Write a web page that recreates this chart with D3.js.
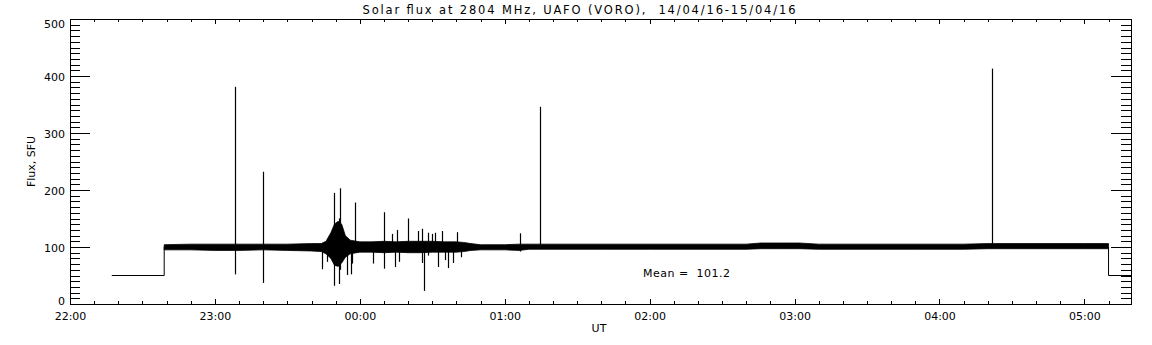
<!DOCTYPE html>
<html>
<head>
<meta charset="utf-8">
<script src="https://cdn.jsdelivr.net/npm/d3@7"></script>
<style>
  body { margin: 0; background: #fff; }
  text { font-family: "DejaVu Sans", sans-serif; fill: #000; white-space: pre; }
</style>
</head>
<body>
<svg width="1152" height="345"></svg>
<script>
// minutes after 22:00 UT
var domainT = [0, 439.3]
var yDomain = [0, 500]

// receiver off level before / after the run
var offLevel = 50
var preT = [17.3, 39.0]
var postT = [430.0, 439.3]

// envelope of the 100 SFU trace: time, low, high
var bandT  = [39, 50, 60, 70, 80, 90, 100, 104, 106, 108, 109.5, 111, 112.5, 114, 116, 120, 125, 130, 135, 140, 145, 150, 155, 160, 163, 166, 170, 180, 186, 190, 200, 220, 240, 260, 280, 286, 295, 302, 310, 330, 350, 370, 380, 400, 420, 430]
var bandLo = [95, 95, 94, 94, 95, 94, 93, 92, 88, 80, 68, 66, 72, 82, 88, 91, 91, 90, 91, 90, 90, 91, 91, 91, 92, 94, 95, 95, 94, 96, 96, 96, 96, 96, 96, 97, 97, 97, 96, 96, 96, 96, 97, 97, 97, 97]
var bandHi = [104, 105, 105, 105, 105, 105, 106, 106, 110, 125, 140, 145, 140, 120, 112, 109, 109, 110, 109, 110, 110, 110, 109, 109, 108, 106, 104, 104, 105, 105, 105, 105, 105, 105, 105, 107, 107, 107, 105, 105, 105, 105, 106, 106, 106, 106]

// single spikes: time, low, high
var spikeT  = [68.4, 80.0, 104.5, 106.3, 109.4, 111.3, 111.9, 114.7, 116.2, 116.6, 118.1, 125.6, 130.1, 133.2, 134.6, 135.5, 136.4, 139.8, 143.9, 145.6, 146.7, 148.2, 150.0, 151.3, 152.3, 153.9, 155.3, 156.6, 158.7, 160.1, 161.8, 186.3, 194.6, 381.6]
var spikeLo = [52, 37, 61, 74, 32, 35, 60, 51, 52, 71, 95, 71, 62, 95, 65, 95, 74, 95, 95, 72, 23, 85, 95, 95, 65, 95, 77, 63, 72, 95, 82, 92, 100, 100]
var spikeHi = [381, 232, 100, 104, 195, 150, 203, 110, 108, 105, 178, 100, 161, 123, 100, 130, 100, 150, 128, 132, 100, 125, 123, 125, 100, 128, 100, 100, 100, 126, 105, 124, 346, 413]

var meanValue = 101.2
var titleText = "Solar flux at 2804 MHz, UAFO (VORO),  14/04/16-15/04/16"

var svg = d3.select("svg")
var pL = 70, pR = 1131, pT = 19, pB = 304

var x = d3.scaleLinear().domain(domainT).range([pL, pR])
var y = d3.scaleLinear().domain(yDomain).range([pB, pT])

function hhmm(m) {
  var h = (22 + Math.round(m / 60)) % 24
  return (h < 10 ? "0" : "") + h + ":00"
}

var majorX = d3.range(0, domainT[1], 60)
var minorX = d3.range(0, domainT[1], 10)
var majorY = d3.range(0, 501, 100)
var minorY = d3.range(0, 501, 10)

// axes, ticks pointing inwards
function axisGroup(axis, tx, ty, cls) {
  return svg.append("g").attr("class", cls || null)
    .attr("transform", "translate(" + tx + "," + ty + ")")
    .call(axis)
}
axisGroup(d3.axisBottom(x).tickValues(minorX).tickSize(-3).tickFormat(""), 0, pB)
axisGroup(d3.axisBottom(x).tickValues(majorX).tickSize(-5).tickFormat(hhmm), 0, pB, "xlab")
axisGroup(d3.axisTop(x).tickValues(minorX).tickSize(-3).tickFormat(""), 0, pT)
axisGroup(d3.axisTop(x).tickValues(majorX).tickSize(-5).tickFormat(""), 0, pT)
axisGroup(d3.axisLeft(y).tickValues(minorY).tickSize(-10).tickFormat(""), pL, 0)
axisGroup(d3.axisLeft(y).tickValues(majorY).tickSize(-20), pL, 0, "ylab")
axisGroup(d3.axisRight(y).tickValues(minorY).tickSize(-10).tickFormat(""), pR, 0)
axisGroup(d3.axisRight(y).tickValues(majorY).tickSize(-20).tickFormat(""), pR, 0)

svg.selectAll(".domain").remove()
svg.selectAll(".tick line").attr("stroke", "#000").attr("shape-rendering", "crispEdges")
svg.selectAll(".tick text").attr("font-size", 11).attr("fill", "#000")

svg.select(".xlab").selectAll("text").attr("y", 8).attr("dy", "0.71em")

// y labels: the end ones are pulled inside the frame
svg.select(".ylab").selectAll("text")
  .attr("x", -5).attr("dy", null)
  .attr("y", function (d) {
    var ty = y(d)
    return Math.min(Math.max(ty + 4, 27.3), 304) - ty
  })

svg.append("rect")
  .attr("x", pL + 0.5).attr("y", pT + 0.5)
  .attr("width", pR - pL).attr("height", pB - pT)
  .attr("fill", "none").attr("stroke", "#000").attr("shape-rendering", "crispEdges")

// data
var band = d3.area()
  .x(function (d) { return x(d.t) })
  .y0(function (d) { return y(d.lo) })
  .y1(function (d) { return y(d.hi) })

var bandData = bandT.map(function (t, i) { return { t: t, lo: bandLo[i], hi: bandHi[i] } })
svg.append("path").datum(bandData)
  .attr("d", band).attr("fill", "#000").attr("stroke", "#000").attr("stroke-width", 0.8)

var line = d3.line().x(function (d) { return x(d[0]) }).y(function (d) { return y(d[1]) })
svg.append("path")
  .datum([[preT[0], offLevel], [preT[1], offLevel], [preT[1], 100]])
  .attr("d", line).attr("fill", "none").attr("stroke", "#000").attr("stroke-width", 1)
svg.append("path")
  .datum([[postT[0], 100], [postT[0], offLevel], [postT[1], offLevel]])
  .attr("d", line).attr("fill", "none").attr("stroke", "#000").attr("stroke-width", 1)

svg.append("g").selectAll("line")
  .data(spikeT.map(function (t, i) { return { t: t, lo: spikeLo[i], hi: spikeHi[i] } }))
  .enter().append("line")
    .attr("x1", function (d) { return Math.round(x(d.t)) + 0.5 })
    .attr("x2", function (d) { return Math.round(x(d.t)) + 0.5 })
    .attr("y1", function (d) { return y(d.lo) })
    .attr("y2", function (d) { return y(d.hi) })
    .attr("stroke", "#000").attr("stroke-width", 1.2)

// texts
svg.append("text")
  .attr("x", 579).attr("y", 13.5).attr("text-anchor", "middle")
  .attr("font-size", 11.5).attr("textLength", 433).attr("lengthAdjust", "spacing")
  .text(titleText)

svg.append("text")
  .attr("x", 643).attr("y", 276.5).attr("font-size", 11)
  .attr("textLength", 87).attr("lengthAdjust", "spacing")
  .text("Mean =  " + meanValue.toFixed(1))

svg.append("text")
  .attr("transform", "translate(35,161.5) rotate(-90)")
  .attr("text-anchor", "middle").attr("font-size", 11)
  .text("Flux, SFU")

svg.append("text")
  .attr("x", 599).attr("y", 332).attr("text-anchor", "middle").attr("font-size", 11)
  .text("UT")
</script>
</body>
</html>
